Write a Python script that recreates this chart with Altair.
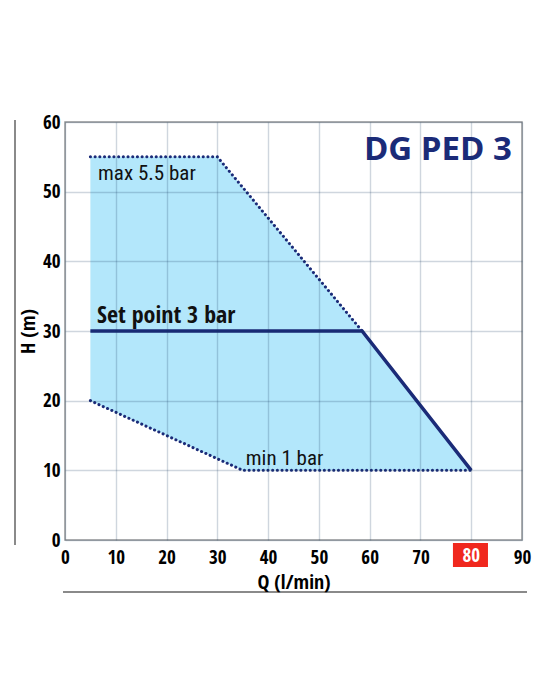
import altair as alt
import pandas as pd

# operating field of the pump, Q (l/min) against H (m)
env_q = [5, 30, 58.5, 80, 35, 5]
env_h = [55, 55, 30, 10, 10, 20]

max_q = [5, 30, 58.5]
max_h = [55, 55, 30]

min_q = [5, 35, 80]
min_h = [20, 10, 10]

set_q = [5, 58.5, 80]
set_h = [30, 30, 10]

labels = ["max 5.5 bar", "Set point 3 bar", "min 1 bar"]
label_q = [6.5, 6.3, 35.6]
label_h = [51.7, 31.2, 10.7]

x_ticks = list(range(0, 95, 5))
y_ticks = list(range(0, 65, 5))
badge = ["80"]
badge_q = [80]

NAVY = "#1b2b78"
FILL = "#b3e7fb"
BOLD = "Open Sans Condensed, Roboto Condensed, sans-serif"
REG = "Roboto Condensed, sans-serif"
W, H = 457, 418

env = pd.DataFrame({"q": env_q, "h": env_h, "i": range(len(env_q))})
mx = pd.DataFrame({"q": max_q, "h": max_h, "i": range(len(max_q))})
mn = pd.DataFrame({"q": min_q, "h": min_h, "i": range(len(min_q))})
sp = pd.DataFrame({"q": set_q, "h": set_h, "i": range(len(set_q))})
lab = pd.DataFrame({"t": labels, "q": label_q, "h": label_h})
bd = pd.DataFrame({"t": badge, "q": badge_q, "q0": [b - 3.6 for b in badge_q],
                   "q1": [b + 3.3 for b in badge_q]})

xs = alt.Scale(domain=[0, 90], nice=False)
ys = alt.Scale(domain=[0, 60], nice=False)

# major lines (every 10) a little stronger than the minor ones
grid_op = {"condition": {"test": "datum.value % 10 == 0", "value": 0.2}, "value": 0.13}

common = dict(ticks=False, domain=False, labelOverlap=False, labelFlush=False,
              gridColor="#10305a", gridOpacity=grid_op, gridWidth=1.4, zindex=1,
              labelFont=BOLD, labelFontSize=19, labelFontWeight="bold",
              labelColor="black", titleFont=BOLD, titleFontSize=20,
              titleFontWeight="bold", titleColor="black")
x_axis = alt.Axis(values=x_ticks,
                  labelExpr="datum.value % 10 == 0 && datum.value != 80 ? datum.label : ''",
                  labelPadding=8, title="Q (l/min)", titlePadding=5, **common)
y_axis = alt.Axis(values=y_ticks,
                  labelExpr="datum.value % 10 == 0 ? datum.label : ''",
                  labelPadding=5, title="H (m)", titlePadding=4, **common)

X = alt.X("q:Q", scale=xs, axis=x_axis)
Y = alt.Y("h:Q", scale=ys, axis=y_axis)

field = alt.Chart(env).mark_line(filled=True, color=FILL).encode(
    x=X, y=Y, order="i:Q")

dots = dict(color=NAVY, strokeWidth=3, strokeDash=[0.1, 4.6], strokeCap="round")
upper = alt.Chart(mx).mark_line(**dots).encode(x="q:Q", y="h:Q", order="i:Q")
lower = alt.Chart(mn).mark_line(**dots).encode(x="q:Q", y="h:Q", order="i:Q")
setp = alt.Chart(sp).mark_line(color=NAVY, strokeWidth=3.5).encode(
    x="q:Q", y="h:Q", order="i:Q")

txt = alt.Chart(lab).encode(x="q:Q", y="h:Q", text="t:N")
plain = txt.mark_text(align="left", baseline="alphabetic", font=REG,
                      fontSize=21, color="#111").transform_filter(
    "datum.t != 'Set point 3 bar'")
bold = txt.mark_text(align="left", baseline="alphabetic", font=BOLD,
                     fontSize=24, fontWeight="bold", color="#111").transform_filter(
    "datum.t == 'Set point 3 bar'")

name = alt.Chart(pd.DataFrame({"t": ["DG PED 3"], "q": [88], "h": [54.6]})).mark_text(
    align="right", baseline="alphabetic", font="Open Sans", fontSize=33,
    fontWeight="bold", color=NAVY).encode(x="q:Q", y="h:Q", text="t:N")

box = alt.Chart(bd).mark_rect(color="#f0281e").encode(
    x="q0:Q", x2="q1:Q", y=alt.value(H + 3), y2=alt.value(H + 27))
box_txt = alt.Chart(bd).mark_text(font=BOLD, fontSize=19, fontWeight="bold",
                                  color="white", baseline="alphabetic").encode(
    x="q:Q", y=alt.value(H + 22), text="t:N")

left_rule = alt.Chart(bd).mark_rule(color="#8a8a8a", strokeWidth=2).encode(
    x=alt.value(-50), y=alt.value(-2), y2=alt.value(H + 5))
bottom_rule = alt.Chart(bd).mark_rule(color="#8a8a8a", strokeWidth=2).encode(
    x=alt.value(-2), x2=alt.value(W + 5), y=alt.value(H + 52))

chart = alt.layer(
    field, upper, lower, setp, plain, bold, name, box, box_txt, left_rule, bottom_rule
).properties(
    width=W, height=H,
    autosize=alt.AutoSizeParams(type="none"),
    padding={"left": 57, "top": 114, "right": 10, "bottom": 80},
).configure_view(stroke="#999", strokeWidth=1.5)

chart.save("out.html", embed_options={"renderer": "svg", "actions": False})
